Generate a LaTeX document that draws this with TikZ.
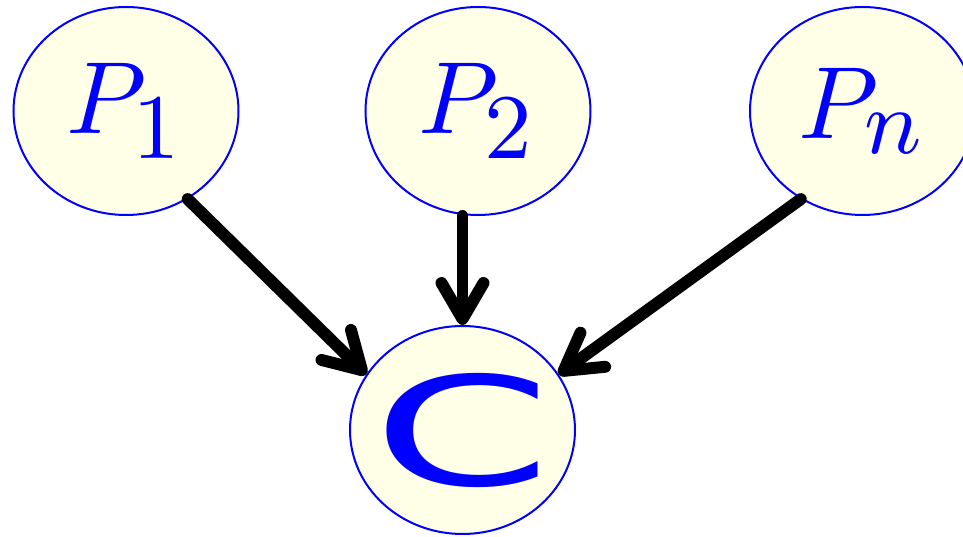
\documentclass[tikz,border=0pt]{standalone}
\usepackage{fontspec}
\usepackage{amsmath}
\usepackage{graphicx}
\usetikzlibrary{shapes.geometric, arrows.meta, positioning, calc}
\newfontfamily\cfont{DejaVu Sans}
\DeclareMathSizes{10}{10}{9}{7}
\newcommand{\bigmath}[1]{\scalebox{2.92}{\fontsize{10}{12}\selectfont$#1$}}
\tikzstyle{varnode} = [ellipse, draw=blue, line width=0.57pt, fill=yellow!10, text=blue, minimum width=2.25cm, minimum height=2.08cm, inner sep=0pt]
\tikzstyle{arrow} = [line width=3.4pt, line cap=round, -{Straight Barb[round, length=0.36cm, width=0.42cm]}]

\begin{document}
\begin{tikzpicture}
        \useasboundingbox (0,0) rectangle (9.63,5.37);
        % parent nodes and child
        \node[varnode] (p1) at (1.26,4.26) {\bigmath{P_1}};
        \node[varnode] (p2) at (4.78,4.26) {\bigmath{P_2}};
        \node[varnode] (pn) at (8.625,4.26) {\bigmath{P_n}};
        \node[varnode] (c) at (4.625,1.07) {\makebox[0pt]{\cfont\fontsize{43}{50}\selectfont\scalebox{1.7}[1]{C}}};

        \draw[arrow] (p1.-55) -- (c.150);
        \draw[arrow] (c.north |- p2.south) -- (c.north);
        \draw[arrow] (pn.-125) -- (c.30);
    \end{tikzpicture}
\end{document}
